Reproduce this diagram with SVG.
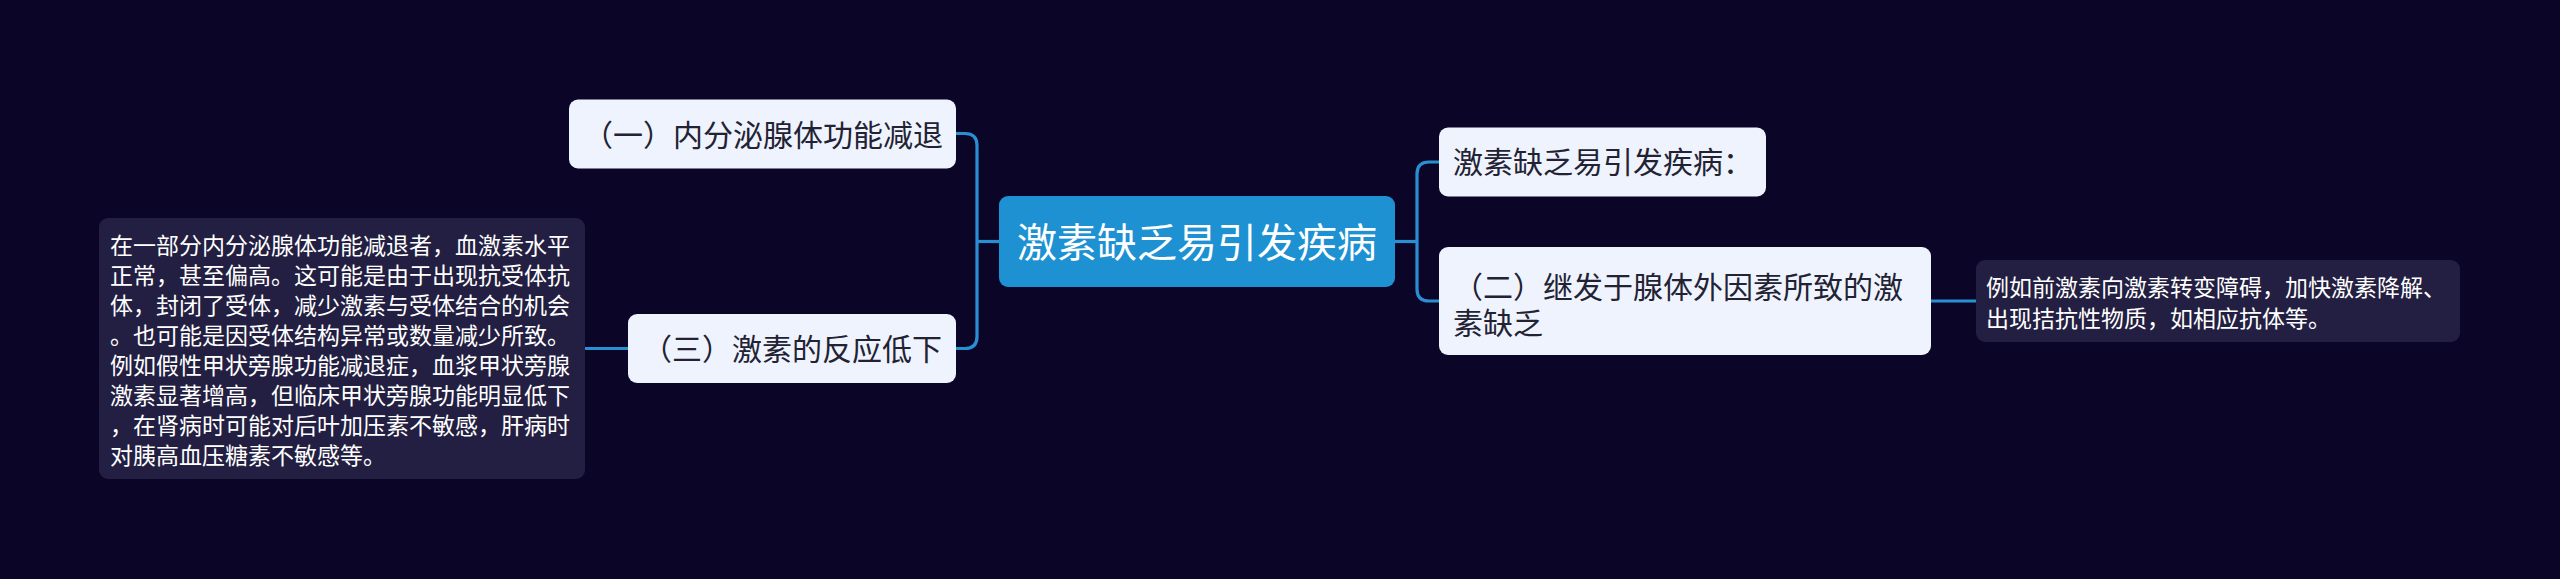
<svg xmlns="http://www.w3.org/2000/svg" width="2560" height="579" viewBox="0 0 2560 579">
<style>
.bg{fill:#0b0628}
.light{fill:#eef3fd}
.dark{fill:#231f42}
.root{fill:#1e91d2}
.conn{fill:none;stroke:#2a8fd2;stroke-width:3.2}
.t{font-family:"Noto Sans CJK SC","Noto Sans",sans-serif;fill:#222233;font-size:30px}
.tr{font-family:"Noto Sans CJK SC","Noto Sans",sans-serif;fill:#ffffff;font-size:40px}
.td{font-family:"Noto Sans CJK SC","Noto Sans",sans-serif;fill:#ffffff;font-size:23px}
</style>
<rect class="bg" x="0" y="0" width="2560" height="579"/>
<g id="connectors">
<path class="conn" d="M999 241.5 H977"/>
<path class="conn" d="M956 133.5 H965 Q977 133.5 977 145.5 V336.5 Q977 348.5 965 348.5 H956"/>
<path class="conn" d="M628 348.5 H585"/>
<path class="conn" d="M1395 241.5 H1417"/>
<path class="conn" d="M1439 162 H1429 Q1417 162 1417 174 V289 Q1417 301 1429 301 H1439"/>
<path class="conn" d="M1931 301 H1976"/>
</g>
<g id="root">
<rect class="root" x="999" y="196" width="396" height="91" rx="9"/>
<text class="tr" x="1017" y="256.5">激素缺乏易引发疾病</text>
</g>
<g id="n1">
<rect class="light" x="569" y="99.5" width="387" height="69" rx="9"/>
<text class="t" x="583" y="145.5">（一）内分泌腺体功能减退</text>
</g>
<g id="n3">
<rect class="light" x="628" y="314" width="328" height="69" rx="9"/>
<text class="t" x="642" y="359.5">（三）激素的反应低下</text>
</g>
<g id="n3d">
<rect class="dark" x="99" y="218" width="486" height="261" rx="9"/>
<text class="td" x="110" y="253.5"><tspan x="110" y="253.5">在一部分内分泌腺体功能减退者，血激素水平</tspan><tspan x="110" y="283.5">正常，甚至偏高。这可能是由于出现抗受体抗</tspan><tspan x="110" y="313.5">体，封闭了受体，减少激素与受体结合的机会</tspan><tspan x="110" y="343.5">。也可能是因受体结构异常或数量减少所致。</tspan><tspan x="110" y="373.5">例如假性甲状旁腺功能减退症，血浆甲状旁腺</tspan><tspan x="110" y="403.5">激素显著增高，但临床甲状旁腺功能明显低下</tspan><tspan x="110" y="433.5">，在肾病时可能对后叶加压素不敏感，肝病时</tspan><tspan x="110" y="463.5">对胰高血压糖素不敏感等。</tspan></text>
</g>
<g id="nr1">
<rect class="light" x="1439" y="127.5" width="327" height="69" rx="9"/>
<text class="t" x="1453" y="173">激素缺乏易引发疾病：</text>
</g>
<g id="n2">
<rect class="light" x="1439" y="247" width="492" height="108" rx="9"/>
<text class="t" x="1453" y="297.5"><tspan x="1453" y="297.5">（二）继发于腺体外因素所致的激</tspan><tspan x="1453" y="334">素缺乏</tspan></text>
</g>
<g id="n2d">
<rect class="dark" x="1976" y="260" width="484" height="82" rx="9"/>
<text class="td" x="1986" y="296"><tspan x="1986" y="296">例如前激素向激素转变障碍，加快激素降解、</tspan><tspan x="1986" y="327">出现拮抗性物质，如相应抗体等。</tspan></text>
</g>
</svg>
